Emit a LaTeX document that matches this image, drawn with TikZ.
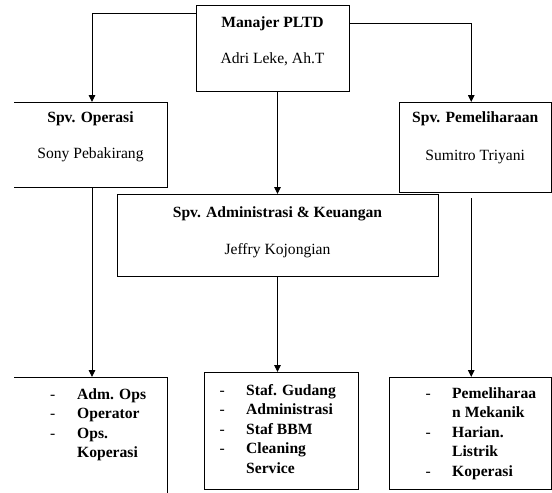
\documentclass[tikz,border=0pt]{standalone}
\usepackage{fontspec}
\setmainfont{Liberation Serif}
\usetikzlibrary{calc, arrows.meta}

\newcommand{\chartsize}{\fontsize{15.6pt}{19.5pt}\selectfont}

\begin{document}
\begin{tikzpicture}[x=1pt, y=-1pt]
    \tikzstyle{unit} = [rectangle, draw, line width=.9pt, inner sep=0pt,
        outer sep=0pt]
    \tikzstyle{openunit} = [rectangle, inner sep=0pt, outer sep=0pt]
    \tikzstyle{head} = [font=\chartsize\bfseries, anchor=base, inner sep=0pt]
    \tikzstyle{person} = [font=\chartsize, anchor=base, inner sep=0pt]
    \tikzstyle{duties} = [font=\chartsize\bfseries, anchor=north west,
        inner sep=0pt]
    \tikzstyle{link} = [line width=.9pt, -{Triangle[length=7pt, width=6.5pt]}]

    \useasboundingbox (0, 0) rectangle (552, 493);
    \clip (0, 0) rectangle (552, 493);

    % Manajer ------------------------------------------
    \node (mgr) at (272.5, 48) [unit, minimum width=153, minimum height=86] {};
    \node (mgrT) at ($(mgr.north) + (0, 22)$) [head] {Manajer PLTD};
    \node (mgrN) at ($(mgr.north) + (0, 58)$) [person] {Adri Leke, Ah.T};

    % Supervisors --------------------------------------
    \node (ops) at (90.5, 144.5) [openunit, minimum width=153, minimum height=85] {};
    \draw[line width=.9pt] (ops.north west) -- (ops.north east)
        -- (ops.south east) -- (ops.south west);
    \node (opsT) at ($(ops.north) + (0, 20)$) [head] {Spv. Operasi};
    \node (opsN) at ($(ops.north) + (0, 56)$) [person] {Sony Pebakirang};

    \node (pem) at (475.25, 147) [unit, minimum width=152.5, minimum height=90] {};
    \node (pemT) at ($(pem.north) + (0, 20)$) [head] {Spv. Pemeliharaan};
    \node (pemN) at ($(pem.north) + (0, 58)$) [person] {Sumitro Triyani};

    \node (adm) at (277.5, 235) [unit, minimum width=321, minimum height=82] {};
    \node (admT) at ($(adm.north) + (0, 23)$) [head] {Spv. Administrasi \& Keuangan};
    \node (admN) at ($(adm.north) + (0, 60)$) [person] {Jeffry Kojongian};
    % ---------------------------------------------------

    % Staff ---------------------------------------------
    \node (opsS) at (90.5, 438.5) [openunit, minimum width=153, minimum height=123] {};
    \draw[line width=.9pt] (opsS.north west) -- (opsS.north east)
        -- (opsS.south east);
    \node (opsL) at ($(opsS.north west) + (36, 8.4)$) [duties]
        {\begin{tabular}[t]{@{}p{27pt}@{}l@{}}
            \textmd{-} & Adm. Ops\\
            \textmd{-} & Operator\\
            \textmd{-} & Ops.\\
                       & Koperasi
        \end{tabular}};

    \node (admS) at (281, 430.5) [unit, minimum width=154, minimum height=117] {};
    \node (admL) at ($(admS.north west) + (15.5, 9.4)$) [duties]
        {\begin{tabular}[t]{@{}p{26.5pt}@{}l@{}}
            \textmd{-} & Staf. Gudang\\
            \textmd{-} & Administrasi\\
            \textmd{-} & Staf BBM\\
            \textmd{-} & Cleaning\\
                       & Service
        \end{tabular}};

    \node (pemS) at (470.25, 433) [unit, minimum width=162.5, minimum height=112] {};
    \node (pemL) at ($(pemS.north west) + (36.5, 7.4)$) [duties]
        {\begin{tabular}[t]{@{}p{26.5pt}@{}l@{}}
            \textmd{-} & Pemeliharaa\\
                       & n Mekanik\\
            \textmd{-} & Harian.\\
                       & Listrik\\
            \textmd{-} & Koperasi
        \end{tabular}};
    % ---------------------------------------------------

    % Connectors
    \draw[link] ($(mgr.north west) + (0, 8)$) -| ($(ops.north) + (1.5, 0)$);
    \draw[link] ($(mgr.north east) + (0, 18)$) -| ($(pem.north) + (-4, 0)$);
    \draw[link] (mgr.south -| adm.north) -- (adm.north);

    \draw[link] ($(ops.south) + (1.5, 0)$) -- ($(ops.south |- opsS.north) + (1.5, 0)$);
    \draw[link] (adm.south) -- (adm.south |- admS.north);
    \coordinate (pemTail) at ($(pem.south) + (-4, 6)$);
    \draw[link] (pemTail) -- (pemTail |- pemS.north);
\end{tikzpicture}
\end{document}
